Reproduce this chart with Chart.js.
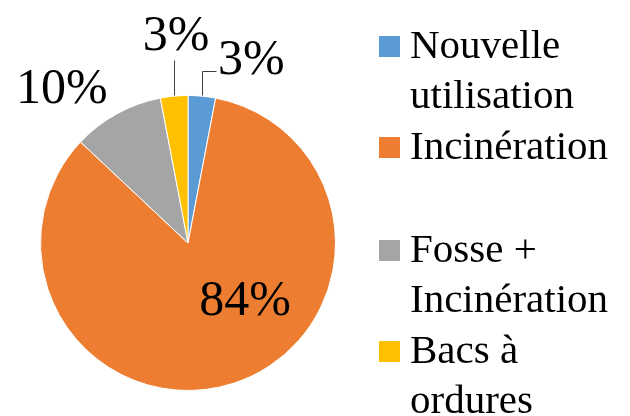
<!DOCTYPE html>
<html><head><meta charset="utf-8">
<script src="https://cdn.jsdelivr.net/npm/chart.js@4/dist/chart.umd.min.js"></script>
<style>
html,body{margin:0;padding:0;background:#fff;}
#wrap{width:630px;height:416px;position:relative;overflow:hidden;}
#c,#t{position:absolute;left:0;top:0;}
</style>
</head><body><div id="wrap"><canvas id="c" width="630" height="416"></canvas><canvas id="t" width="630" height="416"></canvas></div>
<script>
const categories = ['Nouvelle utilisation', 'Incinération', 'Fosse + Incinération', 'Bacs à ordures'];
const legendLines = [['Nouvelle', 'utilisation'], ['Incinération', ''], ['Fosse +', 'Incinération'], ['Bacs à', 'ordures']];
const values = [3, 84, 10, 3];
const valueLabels = ['3%', '84%', '10%', '3%'];
const colors = ['#5B9BD5', '#ED7D31', '#A5A5A5', '#FFC000'];

// label placement styles (relative offsets; dy = baseline)
const placement = [
  {ref: 'outer', dx: 16, dy: -22, align: 'left', leader: [[0, -1], [0, -25], [14, -25]]},
  {ref: 'center', dx: 57, dy: 72, align: 'center', leader: null},
  {ref: 'outer', dx: -55, dy: -11, align: 'center', leader: null},
  {ref: 'outer', dx: 2, dy: -46, align: 'center', leader: [[0, -1], [0, -36]]}
];
const SERIF = 'Times New Roman';

const chart = new Chart(document.getElementById('c'), {
  type: 'pie',
  data: {
    labels: categories,
    datasets: [{
      data: values,
      backgroundColor: colors,
      borderColor: '#ffffff',
      borderWidth: 1,
      hoverOffset: 0
    }]
  },
  options: {
    responsive: false,
    animation: false,
    font: {family: SERIF},
    layout: {padding: {left: 40, top: 95, right: 294, bottom: 25}},
    plugins: {legend: {display: false}, tooltip: {enabled: false}}
  }
});

function drawOverlay() {
  const ctx = document.getElementById('t').getContext('2d');
  ctx.clearRect(0, 0, 630, 416);
  const meta = chart.getDatasetMeta(0);
  meta.data.forEach((arc, i) => {
    const mid = (arc.startAngle + arc.endAngle) / 2;
    const ox = arc.x + Math.cos(mid) * arc.outerRadius;
    const oy = arc.y + Math.sin(mid) * arc.outerRadius;
    const p = placement[i];
    const bx = p.ref === 'outer' ? ox : arc.x;
    const by = p.ref === 'outer' ? oy : arc.y;
    if (p.leader) {
      ctx.strokeStyle = '#404040';
      ctx.lineWidth = 1;
      ctx.beginPath();
      p.leader.forEach((pt, k) => {
        const X = Math.round(bx + pt[0]) + 0.5, Y = Math.round(by + pt[1]) + 0.5;
        if (k === 0) ctx.moveTo(X, Y); else ctx.lineTo(X, Y);
      });
      ctx.stroke();
    }
    ctx.fillStyle = '#000';
    ctx.font = '50px "' + SERIF + '"';
    ctx.textAlign = p.align;
    ctx.textBaseline = 'alphabetic';
    ctx.fillText(valueLabels[i], bx + p.dx, by + p.dy);
  });
  const baselines = [58, 159, 262, 363];
  ctx.font = '41px "' + SERIF + '"';
  ctx.textAlign = 'left';
  legendLines.forEach((lines, i) => {
    const b = baselines[i];
    ctx.fillStyle = colors[i];
    ctx.fillRect(379, b - 22, 21, 21);
    ctx.fillStyle = '#000';
    lines.forEach((t, k) => { if (t) ctx.fillText(t, 410, b + k * 50); });
  });
}
drawOverlay();
</script></body></html>
